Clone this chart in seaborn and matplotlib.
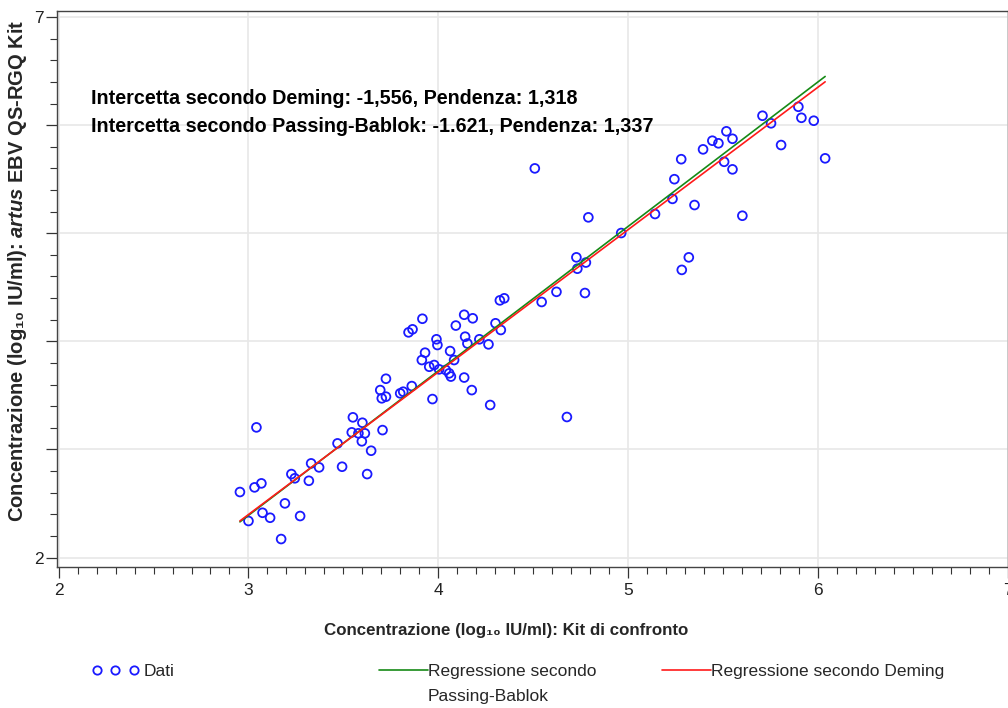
import numpy as np
import pandas as pd
import matplotlib
matplotlib.use('Agg')
import matplotlib.pyplot as plt
import seaborn as sns
from matplotlib.lines import Line2D
from matplotlib.ticker import MultipleLocator

# Dati (log10 IU/ml)
kit_confronto = [2.955, 3.000, 3.032, 3.068, 3.042, 3.074, 3.114, 3.172, 3.192, 3.272,
                 3.226, 3.244, 3.318, 3.330, 3.372, 3.469, 3.493, 3.625, 3.646, 3.550,
                 3.544, 3.600, 3.579, 3.613, 3.597, 3.706, 3.724, 3.694, 3.702, 3.724,
                 3.799, 3.815, 3.860, 3.969, 3.843, 3.864, 3.916, 3.990, 3.995, 3.930,
                 3.913, 3.952, 3.978, 4.004, 4.039, 4.057, 4.066, 4.062, 4.083, 4.136,
                 4.176, 4.273, 4.092, 4.136, 4.181, 4.141, 4.153, 4.216, 4.264, 4.301,
                 4.329, 4.324, 4.347, 4.544, 4.622, 4.508, 4.790, 4.963, 4.727, 4.777,
                 4.732, 4.772, 4.677, 5.141, 5.233, 5.243, 5.279, 5.319, 5.282, 5.349,
                 5.394, 5.443, 5.475, 5.517, 5.549, 5.505, 5.549, 5.601, 5.707, 5.752,
                 5.805, 5.896, 5.912, 5.977, 6.037]
artus_ebv = [2.606, 2.338, 2.649, 2.686, 3.204, 2.414, 2.368, 2.171, 2.501, 2.384,
             2.772, 2.733, 2.710, 2.871, 2.834, 3.056, 2.840, 2.772, 2.988, 3.297,
             3.158, 3.247, 3.149, 3.149, 3.075, 3.179, 3.654, 3.549, 3.473, 3.488,
             3.519, 3.534, 3.586, 3.466, 4.083, 4.111, 4.209, 4.019, 3.966, 3.895,
             3.827, 3.765, 3.781, 3.741, 3.735, 3.704, 3.674, 3.910, 3.827, 3.665,
             3.549, 3.411, 4.146, 4.246, 4.213, 4.043, 3.980, 4.019, 3.972, 4.167,
             4.105, 4.379, 4.398, 4.364, 4.458, 5.600, 5.147, 5.002, 4.777, 4.729,
             4.672, 4.447, 3.300, 5.178, 5.318, 5.500, 5.685, 4.777, 4.661, 5.261,
             5.776, 5.856, 5.832, 5.943, 5.874, 5.661, 5.591, 5.162, 6.087, 6.017,
             5.816, 6.170, 6.068, 6.041, 5.693]

# Regressioni (intercetta, pendenza)
deming = (-1.556, 1.318)
passing_bablok = (-1.621, 1.337)

df = pd.DataFrame({'x': kit_confronto, 'y': artus_ebv})
xr = np.array([df['x'].min(), df['x'].max()])
linee = pd.DataFrame({
    'x': np.concatenate([xr, xr]),
    'y': np.concatenate([passing_bablok[0] + passing_bablok[1] * xr,
                         deming[0] + deming[1] * xr]),
    'metodo': ['Passing-Bablok'] * 2 + ['Deming'] * 2,
})

sns.set_theme(style="whitegrid")
plt.rcParams['font.family'] = ['Liberation Sans', 'DejaVu Sans']
plt.rcParams['mathtext.fontset'] = 'custom'
plt.rcParams['mathtext.it'] = 'Liberation Sans:italic:bold'
plt.rcParams['mathtext.rm'] = 'Liberation Sans:bold'

fig = plt.figure(figsize=(10.08, 7.08), dpi=100)
ax = fig.add_axes([56.5 / 1008, 141.5 / 708, 951.5 / 1008, 555.5 / 708])

sns.scatterplot(data=df, x='x', y='y', ax=ax, marker='o', s=40,
                facecolor='none', edgecolor='#1a1aff', linewidth=1.3, zorder=3)
sns.lineplot(data=linee, x='x', y='y', hue='metodo', ax=ax,
             palette={'Passing-Bablok': '#168a16', 'Deming': '#ff1a1a'},
             linewidth=1.2, legend=False, zorder=4)

ax.set_xlim(1.989, 7.0)
ax.set_ylim(1.917, 7.056)
ax.xaxis.set_minor_locator(MultipleLocator(0.1))
ax.yaxis.set_minor_locator(MultipleLocator(0.2))
ax.set_yticks([2, 3, 4, 5, 6, 7])
ax.set_yticklabels(['2', '', '', '', '', '7'])
ax.set_xticks([2, 3, 4, 5, 6, 7])
ax.set_xticklabels(['2', '3', '4', '5', '6', '7'])
ax.tick_params(axis='both', which='major', direction='out', length=8, width=0.9,
               color='#333333', labelsize=12.5, labelcolor='#222222', bottom=True, left=True)
ax.tick_params(axis='y', which='major', pad=1.5)
ax.tick_params(axis='x', which='major', pad=4)
ax.tick_params(axis='both', which='minor', direction='out', length=5, width=0.8,
               color='#333333', bottom=True, left=True)
ax.grid(True, which='major', color='#e8e8e8', linewidth=1.2)
ax.grid(False, which='minor')
for sp in ax.spines.values():
    sp.set_color('#444444')
    sp.set_linewidth(1.0)
ax.set_xlabel('')
ax.set_ylabel('')

fig.text(91 / 1008, 1 - 99 / 708, 'Intercetta secondo Deming: -1,556, Pendenza: 1,318',
         fontsize=14.2, fontweight='bold', color='black', va='center', ha='left')
fig.text(91 / 1008, 1 - 126 / 708, 'Intercetta secondo Passing-Bablok: -1.621, Pendenza: 1,337',
         fontsize=14.2, fontweight='bold', color='black', va='center', ha='left')

fig.text(506 / 1008, 1 - 631 / 708,
         'Concentrazione (log\u2081\u2080 IU/ml): Kit di confronto',
         fontsize=12.2, fontweight='bold', ha='center', va='center')
fig.text(18 / 1008, 1 - 271 / 708,
         'Concentrazione (log\u2081\u2080 IU/ml): $\\mathit{artus}$ EBV QS-RGQ Kit',
         fontsize=14.5, fontweight='bold', ha='center', va='center', rotation=90)

# Legenda
h_dati = Line2D([], [], marker='o', linestyle='none', markerfacecolor='none',
                markeredgecolor='#1a1aff', markersize=6, markeredgewidth=1.3)
h_pb = Line2D([], [], color='#168a16', linewidth=1.2)
h_dm = Line2D([], [], color='#ff1a1a', linewidth=1.2)
leg_kw = dict(frameon=False, fontsize=12.5, borderpad=0, borderaxespad=0,
              loc='upper left')
fig.legend([h_dati], ['Dati'], bbox_to_anchor=(92 / 1008, 1 - 664 / 708),
           numpoints=3, handlelength=2.7, handletextpad=0.3, **leg_kw)
fig.legend([h_pb], ['Regressione secondo'], bbox_to_anchor=(379 / 1008, 1 - 664 / 708),
           handlelength=2.8, handletextpad=0.05, **leg_kw)
fig.text(428 / 1008, 1 - 696 / 708, 'Passing-Bablok', fontsize=12.5, ha='left', va='center')
fig.legend([h_dm], ['Regressione secondo Deming'], bbox_to_anchor=(662 / 1008, 1 - 664 / 708),
           handlelength=2.8, handletextpad=0.05, **leg_kw)

fig.savefig('out.png', dpi=100)
